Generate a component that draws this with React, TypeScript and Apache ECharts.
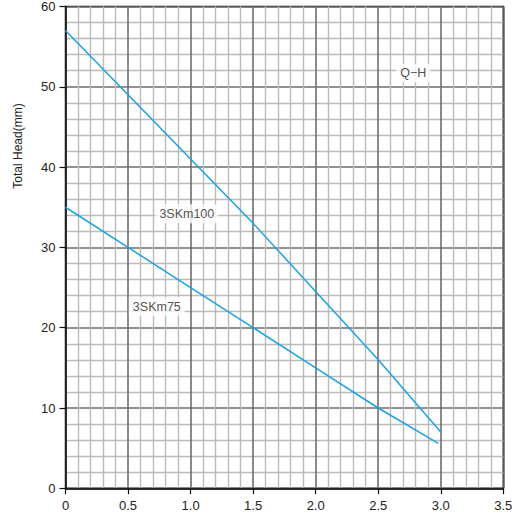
import React, { useEffect, useRef } from "react";
import * as echarts from "echarts";

const flowQ = [0, 0.5, 1.0, 1.5, 2.0, 2.5, 3.0];
const head100 = [57, 49, 41, 33, 24.5, 16, 7];
const flowQ75 = [0, 0.5, 1.0, 1.5, 2.0, 2.5, 2.98];
const head75 = [35, 30, 25, 20, 15, 10, 5.6];
const seriesNames = ["3SKm100", "3SKm75"];
const labelTexts = ["3SKm100", "3SKm75", "Q\u2212H"];
const labelX = [0.97, 0.73, 2.78];
const labelY = [34.2, 22.6, 51.7];
const yTitle = "Total Head(mm)";

const FONT = "Liberation Sans, Arial, sans-serif";
const LINE = "#1ba2e6";

export default function App() {
  const ref = useRef<HTMLDivElement>(null);
  useEffect(() => {
    document.body.style.margin = "0";
    const chart = echarts.init(ref.current!, null, { renderer: "svg" });
    const axisCommon = {
      type: "value",
      axisLine: { show: true, lineStyle: { color: "#111", width: 1.5 } },
      axisTick: { show: true, inside: false, length: 6, lineStyle: { color: "#111", width: 1.2 } },
      splitLine: { show: true, lineStyle: { color: "#6e6e6e", width: 1.6 } },
      minorTick: { show: false, splitNumber: 5 },
      minorSplitLine: { show: true, lineStyle: { color: "#bababa", width: 1.4 } },
      axisLabel: { color: "#222", fontSize: 13, fontFamily: FONT },
    };
    chart.setOption({
      animation: false,
      backgroundColor: "#fff",
      grid: {
        left: 65.5,
        top: 6.5,
        right: 13.7,
        bottom: 39.7,
        show: true,
        borderColor: "#111",
        borderWidth: 1.5,
        containLabel: false,
      },
      xAxis: {
        ...axisCommon,
        min: 0,
        max: 3.5,
        interval: 0.5,
        axisLabel: {
          ...axisCommon.axisLabel,
          margin: 11,
          formatter: (v: number) => (v === 0 ? "0" : v.toFixed(1)),
        },
      },
      yAxis: {
        ...axisCommon,
        min: 0,
        max: 60,
        interval: 10,
        axisLabel: { ...axisCommon.axisLabel, margin: 10 },
      },
      graphic: [
        {
          type: "text",
          x: 18,
          y: 146,
          rotation: Math.PI / 2,
          style: {
            text: yTitle,
            align: "center",
            verticalAlign: "middle",
            fill: "#222",
            fontSize: 12,
            fontFamily: FONT,
          },
        },
      ],
      series: [
        {
          name: seriesNames[0],
          type: "line",
          data: flowQ.map((q, i) => [q, head100[i]]),
          showSymbol: false,
          symbol: "none",
          lineStyle: { color: LINE, width: 1.5 },
        },
        {
          name: seriesNames[1],
          type: "line",
          data: flowQ75.map((q, i) => [q, head75[i]]),
          showSymbol: false,
          symbol: "none",
          lineStyle: { color: LINE, width: 1.5 },
        },
        {
          type: "scatter",
          symbolSize: 0,
          data: labelTexts.map((t, i) => ({ value: [labelX[i], labelY[i]], name: t })),
          label: {
            show: true,
            position: "inside",
            formatter: (p: any) => p.name,
            color: "#222",
            fontSize: 12.5,
            fontFamily: FONT,
            backgroundColor: "#fff",
            padding: [3, 4],
          },
          z: 5,
        },
      ],
    });
    return () => chart.dispose();
  }, []);
  return (
    <div
      ref={ref}
      style={{ position: "absolute", left: 0, top: 0, width: 517, height: 528 }}
    />
  );
}
